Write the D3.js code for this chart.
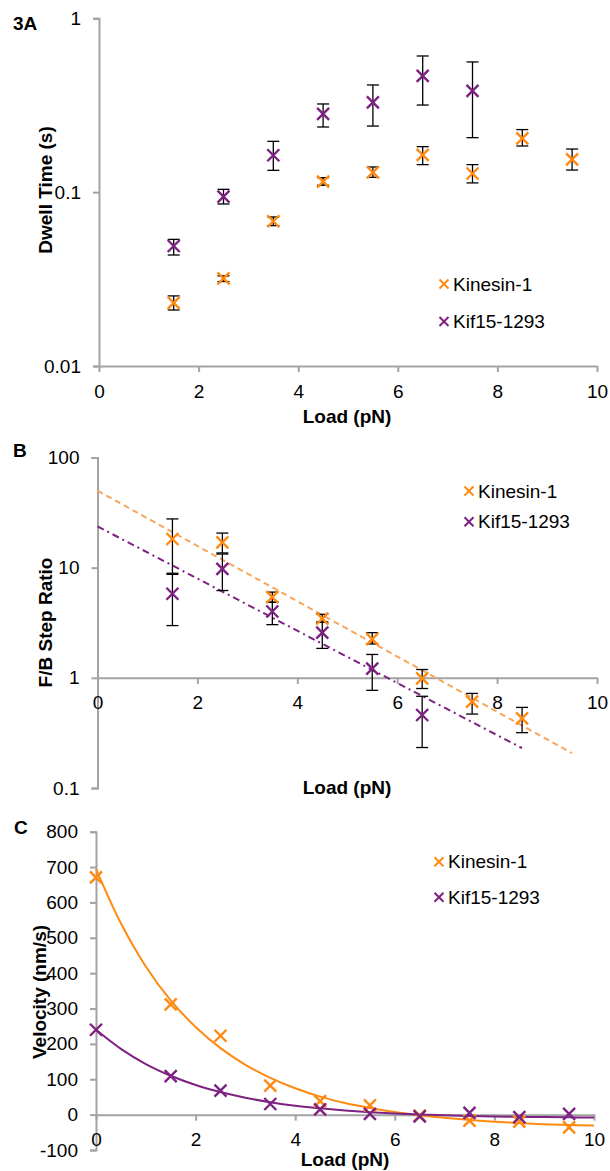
<!DOCTYPE html>
<html><head><meta charset="utf-8">
<script src="https://cdn.jsdelivr.net/npm/d3@7"></script>
<style>
html,body{margin:0;padding:0;background:#fff;}
text{font-family:"Liberation Sans",Arial,sans-serif;fill:#000;}
</style></head>
<body>
<script>
// ---------- DATA ----------
const seriesNames = ["Kinesin-1", "Kif15-1293"];

// Panel A: dwell time (s)
const dwellLoadsKin = [1.5, 2.5, 3.5, 4.5, 5.5, 6.5, 7.5, 8.5, 9.5];
const dwellKin   = [0.0231, 0.0319, 0.068, 0.115, 0.130, 0.164, 0.128, 0.204, 0.1545];
const dwellKinHi = [0.0253, 0.0330, 0.072, 0.1212, 0.1396, 0.1827, 0.144, 0.229, 0.177];
const dwellKinLo = [0.0210, 0.0306, 0.0642, 0.1095, 0.1217, 0.144, 0.113, 0.1843, 0.134];
const dwellLoadsKif = [1.5, 2.5, 3.5, 4.5, 5.5, 6.5, 7.5];
const dwellKif   = [0.049, 0.0942, 0.163, 0.2817, 0.3288, 0.466, 0.382];
const dwellKifHi = [0.0535, 0.1038, 0.196, 0.3215, 0.4136, 0.607, 0.561];
const dwellKifLo = [0.0435, 0.0855, 0.1335, 0.237, 0.240, 0.317, 0.2058];
const dwellTicks = [0.01, 0.1, 1];
const dwellTickLabels = ["0.01", "0.1", "1"];

// Panel B: F/B step ratio
const ratioLoadsKin = [1.5, 2.5, 3.5, 4.5, 5.5, 6.5, 7.5, 8.5];
const ratioKin   = [18.2, 17.0, 5.41, 3.44, 2.25, 0.99, 0.607, 0.428];
const ratioKinHi = [27.7, 20.6, 6.0, 3.77, 2.57, 1.19, 0.722, 0.539];
const ratioKinLo = [8.9, 13.6, 4.87, 3.21, 2.03, 0.80, 0.469, 0.318];
const ratioLoadsKif = [1.5, 2.5, 3.5, 4.5, 5.5, 6.5];
const ratioKif   = [5.8, 9.76, 4.0, 2.57, 1.21, 0.46];
const ratioKifHi = [8.7, 13.3, 4.85, 3.2, 1.63, 0.68];
const ratioKifLo = [2.98, 6.2, 3.04, 1.85, 0.77, 0.233];
const trendKin = [[0, 50], [9.5, 0.207]];
const trendKif = [[0, 23.7], [8.5, 0.23]];
const ratioTicks = [0.1, 1, 10, 100];
const ratioTickLabels = ["0.1", "1", "10", "100"];

// Panel C: velocity (nm/s)
const velLoads = [0, 1.5, 2.5, 3.5, 4.5, 5.5, 6.5, 7.5, 8.5, 9.5];
const velKin = [671, 312, 223, 82, 38, 26, -3, -17, -20, -36];
const velKif = [240, 109, 68, 30, 15, 2, -5, 5, -7, 2];
const fitLoads = [0, 0.5, 1, 1.5, 2, 2.5, 3, 3.5, 4, 4.5, 5, 5.5, 6, 6.5, 7, 7.5, 8, 8.5, 9, 9.5, 10];
const fitKin = [695, 541, 419, 323, 248, 188, 141, 104, 74.5, 51, 33, 19, 7.5, -1.5, -9, -15, -20, -24, -27, -29.5, -31];
const fitKif = [240, 186, 143, 110, 84, 64, 48, 35, 25, 18, 12, 7, 3.3, 0.4, -1.8, -3.6, -5, -6, -7, -7.6, -8];
const velTicks = [-100, 0, 100, 200, 300, 400, 500, 600, 700, 800];
const velTickLabels = ["-100", "0", "100", "200", "300", "400", "500", "600", "700", "800"];

const loadTicks = [0, 2, 4, 6, 8, 10];
const loadTickLabels = ["0", "2", "4", "6", "8", "10"];

// ---------- STYLE ----------
const ORANGE = "#FF8A12", PURPLE = "#7E2282", ORANGE_LIGHT = "#F8A65C";
const AXIS = "#A3A3A3";
const FS = 19;

const svg = d3.select("body").append("svg").attr("width", 610).attr("height", 1171);

function xMark(g, x, y, color, r, sw) {
  g.append("path")
    .attr("d", `M${x - r},${y - r}L${x + r},${y + r}M${x - r},${y + r}L${x + r},${y - r}`)
    .attr("stroke", color).attr("stroke-width", sw).attr("fill", "none");
}

function yAxis(g, y, x0, ticks, labels) {
  const ax = g.append("g").attr("transform", `translate(${x0},0)`)
    .call(d3.axisLeft(y).tickValues(ticks).tickSize(6).tickPadding(12)
      .tickFormat((d, i) => labels[i]));
  ax.select(".domain").attr("stroke", AXIS).attr("stroke-width", 2);
  ax.selectAll(".tick line").attr("stroke", AXIS).attr("stroke-width", 2);
  ax.selectAll(".tick text").attr("font-size", FS).attr("font-family", "Liberation Sans, Arial").attr("fill", "#000");
}
function xAxis(g, x, y0) {
  const ax = g.append("g").attr("transform", `translate(0,${y0})`)
    .call(d3.axisBottom(x).tickValues(loadTicks).tickSize(6).tickSizeOuter(0)
      .tickFormat((d, i) => loadTickLabels[i]));
  ax.select(".domain").attr("stroke", AXIS).attr("stroke-width", 2);
  ax.selectAll(".tick line").attr("stroke", AXIS).attr("stroke-width", 2);
  ax.selectAll(".tick text").attr("font-size", FS).attr("font-family", "Liberation Sans, Arial")
    .attr("fill", "#000").attr("y", 25).attr("dy", "0.35em");
}
function errBars(g, x, y, loads, hi, lo) {
  loads.forEach((l, i) => {
    const px = x(l);
    g.append("line").attr("x1", px).attr("x2", px).attr("y1", y(hi[i])).attr("y2", y(lo[i]))
      .attr("stroke", "#000").attr("stroke-width", 1.3);
    [hi[i], lo[i]].forEach(v => {
      g.append("line").attr("x1", px - 6).attr("x2", px + 6).attr("y1", y(v)).attr("y2", y(v))
        .attr("stroke", "#000").attr("stroke-width", 1.3);
    });
  });
}
function points(g, x, y, loads, vals, color) {
  loads.forEach((l, i) => xMark(g, x(l), y(vals[i]), color, 6, 2.4));
}
function legend(g, x, y1, y2) {
  [[y1, ORANGE, seriesNames[0]], [y2, PURPLE, seriesNames[1]]].forEach(([yy, c, t]) => {
    xMark(g, x, yy, c, 4.5, 2);
    g.append("text").attr("x", x + 9).attr("y", yy).attr("dy", "0.35em").attr("font-size", FS).text(t);
  });
}
function titles(g, xT, yT, ylabel, ylx, yly) {
  g.append("text").attr("x", xT).attr("y", yT).attr("dy", "0.35em").attr("text-anchor", "middle")
    .attr("font-size", FS).attr("font-weight", "bold").text("Load (pN)");
  g.append("text").attr("transform", `translate(${ylx},${yly}) rotate(-90)`).attr("dy", "0.35em")
    .attr("text-anchor", "middle").attr("font-size", FS).attr("font-weight", "bold").text(ylabel);
}

// ---------- PANEL A ----------
{
  const g = svg.append("g");
  const x = d3.scaleLinear().domain([0, 10]).range([99, 597]);
  const y = d3.scaleLog().domain([0.01, 1]).range([366, 18.3]);
  yAxis(g, y, 99, dwellTicks, dwellTickLabels);
  xAxis(g, x, 366);
  errBars(g, x, y, dwellLoadsKin, dwellKinHi, dwellKinLo);
  errBars(g, x, y, dwellLoadsKif, dwellKifHi, dwellKifLo);
  points(g, x, y, dwellLoadsKin, dwellKin, ORANGE);
  points(g, x, y, dwellLoadsKif, dwellKif, PURPLE);
  legend(g, 444, 284, 321.5);
  titles(g, 347, 416.5, "Dwell Time (s)", 45, 190);
  g.append("text").attr("x", 13).attr("y", 23).attr("dy", "0.35em").attr("font-size", FS)
    .attr("font-weight", "bold").text("3A");
}

// ---------- PANEL B ----------
{
  const g = svg.append("g");
  const x = d3.scaleLinear().domain([0, 10]).range([97.5, 597]);
  const y = d3.scaleLog().domain([0.1, 100]).range([788, 457.5]);
  yAxis(g, y, 97.5, ratioTicks, ratioTickLabels);
  xAxis(g, x, y(1));
  const line = d3.line().x(d => x(d[0])).y(d => y(d[1]));
  g.append("path").attr("d", line(trendKin)).attr("fill", "none").attr("stroke", ORANGE_LIGHT)
    .attr("stroke-width", 2).attr("stroke-dasharray", "6,4");
  g.append("path").attr("d", line(trendKif)).attr("fill", "none").attr("stroke", PURPLE)
    .attr("stroke-width", 2).attr("stroke-dasharray", "7,4,2,4");
  errBars(g, x, y, ratioLoadsKin, ratioKinHi, ratioKinLo);
  errBars(g, x, y, ratioLoadsKif, ratioKifHi, ratioKifLo);
  points(g, x, y, ratioLoadsKin, ratioKin, ORANGE);
  points(g, x, y, ratioLoadsKif, ratioKif, PURPLE);
  legend(g, 469, 491, 521.7);
  titles(g, 347, 787, "F/B Step Ratio", 45, 622.5);
  g.append("text").attr("x", 13).attr("y", 450).attr("dy", "0.35em").attr("font-size", FS)
    .attr("font-weight", "bold").text("B");
}

// ---------- PANEL C ----------
{
  const g = svg.append("g");
  const x = d3.scaleLinear().domain([0, 10]).range([96, 594]);
  const y = d3.scaleLinear().domain([-100, 800]).range([1150, 831.7]);
  yAxis(g, y, 96, velTicks, velTickLabels);
  xAxis(g, x, y(0));
  const line = d3.line().x((d, i) => x(fitLoads[i])).y(d => y(d)).curve(d3.curveCatmullRom);
  g.append("path").attr("d", line(fitKin)).attr("fill", "none").attr("stroke", ORANGE).attr("stroke-width", 2);
  g.append("path").attr("d", line(fitKif)).attr("fill", "none").attr("stroke", PURPLE).attr("stroke-width", 2);
  points(g, x, y, velLoads, velKin, ORANGE);
  points(g, x, y, velLoads, velKif, PURPLE);
  legend(g, 439, 861.7, 897.3);
  titles(g, 345, 1159, "Velocity (nm/s)", 39, 992);
  g.append("text").attr("x", 14).attr("y", 827).attr("dy", "0.35em").attr("font-size", FS)
    .attr("font-weight", "bold").text("C");
}
</script>
</body></html>
